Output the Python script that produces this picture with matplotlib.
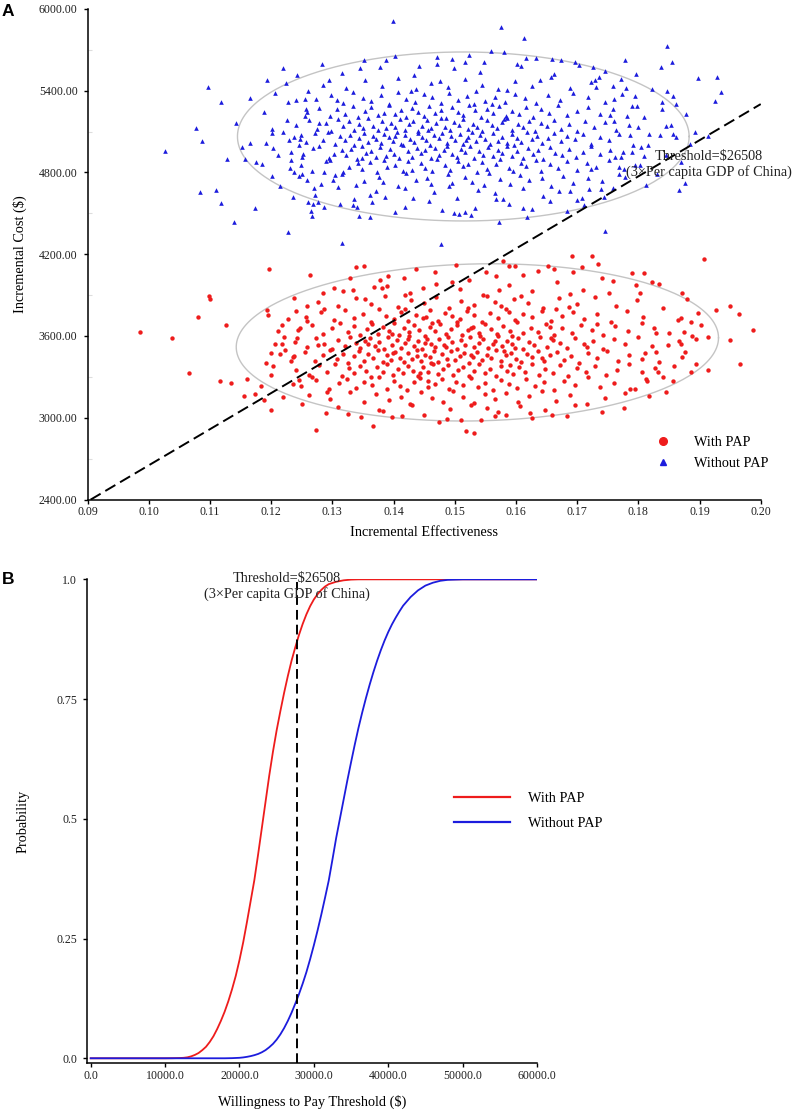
import numpy as np
import matplotlib
matplotlib.use('Agg')
import matplotlib.pyplot as plt
from matplotlib.lines import Line2D

# --- Panel A: incremental cost-effectiveness plane ---
# (incremental effectiveness, incremental cost $)
without_pap = [
    # scattered points outside the dense core
    (0.1026, 4958), (0.1078, 5127), (0.1087, 5033), (0.1097, 5425), (0.1083, 4655), (0.1110, 4672), (0.1118, 5315), (0.1118, 4576),
    (0.1128, 4899), (0.1139, 4434), (0.1142, 5161), (0.1157, 4897), (0.1153, 4989), (0.1165, 5349), (0.1166, 5019), (0.1174, 4540),
    (0.1176, 4880), (0.1185, 4860), (0.1191, 5019), (0.1194, 5477), (0.1202, 5122), (0.1202, 5092), (0.1203, 4980), (0.1211, 4929),
    (0.1202, 4772), (0.1219, 5569), (0.1227, 4361), (0.1219, 5100), (0.1228, 5317), (0.1241, 5334), (0.1255, 5340), (0.1229, 5036),
    (0.1231, 4835), (0.1233, 4892), (0.1247, 5044), (0.1245, 5002), (0.1249, 5075), (0.1245, 4774), (0.1250, 4787), (0.1255, 5217),
    (0.1261, 4586), (0.1265, 4520), (0.1266, 4481), (0.1276, 4586), (0.1399, 5914), (0.1575, 5870), (0.1614, 5785), (0.1847, 5728),
    (0.1855, 5609), (0.1837, 5572), (0.1779, 5623), (0.1897, 5494), (0.1928, 5503), (0.1935, 5389), (0.1926, 5323), (0.1847, 5400),
    (0.1857, 5364), (0.1839, 5320), (0.1798, 5288), (0.1761, 5342), (0.1818, 5085), (0.1836, 5075), (0.1845, 5141), (0.1857, 5082),
    (0.1862, 5060), (0.1893, 5100), (0.1914, 5070), (0.1805, 4990), (0.1791, 5002), (0.1768, 4843), (0.1867, 4672), (0.1877, 4721),
    (0.1745, 4373), (0.1618, 4471), (0.1572, 4437), (0.1478, 4275), (0.1498, 4500), (0.1507, 4493), (0.1517, 4510), (0.1526, 4486),
    (0.1689, 4667), (0.1316, 4285), (0.1362, 4471), (0.1343, 4483), (0.1333, 4560), (0.1340, 4545), (0.1351, 5626), (0.1345, 5565),
    (0.1730, 5479), (0.1736, 5503), (0.1780, 5420), (0.1790, 5290), (0.1760, 5180), (0.1800, 5130), (0.1775, 4950), (0.1810, 4920),
    (0.1700, 4600), (0.1720, 4680),
    # edge of the ellipse
    (0.1188, 5243), (0.1207, 5381), (0.1215, 4703), (0.1224, 5458), (0.1236, 4618), (0.1243, 5512), (0.1252, 4938), (0.1261, 5395),
    (0.1270, 4689), (0.1279, 5164), (0.1286, 4804), (0.1294, 5480), (0.1301, 4746), (0.1308, 5330), (0.1313, 4571), (0.1226, 5186),
    (0.1238, 4806), (0.1257, 5267), (0.1269, 4570), (0.1283, 5598),
    (0.1722, 4826), (0.1731, 5427), (0.1744, 4621), (0.1753, 5218), (0.1762, 4912), (0.1771, 5486), (0.1779, 4763), (0.1787, 5073),
    (0.1794, 5364), (0.1802, 4856), (0.1809, 5207), (0.1816, 4998), (0.1823, 5412), (0.1831, 4788), (0.1838, 5266), (0.1846, 4931),
    (0.1853, 5148), (0.1861, 5305), (0.1869, 4876), (0.1878, 5230), (0.1884, 5011), (0.1726, 5577), (0.1758, 4689), (0.1797, 5524),
    (0.1812, 4705),
    (0.1387, 5622), (0.1442, 5583), (0.1523, 5662), (0.1548, 5609), (0.1602, 5598), (0.1697, 5611), (0.1419, 4548), (0.1479, 4527),
    (0.1568, 4605), (0.1612, 4541), (0.1683, 4518), (0.1361, 4633),
    # core, 4500-4800
    (0.1287, 4547), (0.1365, 4583), (0.1402, 4512), (0.1458, 4591), (0.1533, 4538), (0.1589, 4566), (0.1627, 4529), (0.1655, 4594),
    (0.1712, 4561),
    (0.1272, 4638), (0.1309, 4691), (0.1335, 4603), (0.1371, 4667), (0.1386, 4622), (0.1419, 4684), (0.1432, 4609), (0.1466, 4655),
    (0.1491, 4697), (0.1503, 4616), (0.1538, 4672), (0.1565, 4648), (0.1579, 4604), (0.1612, 4689), (0.1644, 4627), (0.1671, 4663),
    (0.1708, 4612), (0.1739, 4678),
    (0.1258, 4747), (0.1281, 4712), (0.1304, 4783), (0.1316, 4791), (0.1339, 4705), (0.1352, 4738), (0.1377, 4766), (0.1383, 4729),
    (0.1408, 4702), (0.1421, 4795), (0.1437, 4741), (0.1455, 4758), (0.1462, 4714), (0.1489, 4786), (0.1496, 4721), (0.1517, 4769),
    (0.1529, 4733), (0.1548, 4708), (0.1556, 4799), (0.1574, 4754), (0.1591, 4717), (0.1606, 4781), (0.1622, 4744), (0.1643, 4762),
    (0.1658, 4703), (0.1677, 4777), (0.1693, 4726), (0.1718, 4759), (0.1741, 4734), (0.1768, 4789),
    # core, 4800-5000
    (0.1249, 4852), (0.1266, 4814), (0.1289, 4883), (0.1297, 4891), (0.1318, 4805), (0.1327, 4838), (0.1342, 4866), (0.1349, 4829),
    (0.1361, 4874), (0.1373, 4802), (0.1384, 4895), (0.1390, 4841), (0.1403, 4858), (0.1416, 4814), (0.1424, 4886), (0.1431, 4821),
    (0.1445, 4869), (0.1452, 4833), (0.1463, 4808), (0.1471, 4899), (0.1484, 4854), (0.1492, 4817), (0.1506, 4881), (0.1513, 4844),
    (0.1522, 4862), (0.1537, 4803), (0.1545, 4877), (0.1553, 4826), (0.1567, 4863), (0.1574, 4897), (0.1588, 4835), (0.1596, 4811),
    (0.1609, 4872), (0.1617, 4849), (0.1633, 4894), (0.1641, 4807), (0.1656, 4859), (0.1668, 4831), (0.1684, 4884), (0.1699, 4818),
    (0.1716, 4866), (0.1731, 4843), (0.1752, 4891), (0.1776, 4822), (0.1794, 4856),
    (0.1232, 4947), (0.1251, 4912), (0.1268, 4983), (0.1279, 4991), (0.1294, 4905), (0.1303, 4938), (0.1315, 4966), (0.1322, 4929),
    (0.1331, 4974), (0.1340, 4902), (0.1349, 4995), (0.1355, 4941), (0.1364, 4958), (0.1372, 4917), (0.1378, 4986), (0.1387, 4921),
    (0.1395, 4969), (0.1401, 4933), (0.1409, 4908), (0.1416, 4999), (0.1424, 4954), (0.1430, 4915), (0.1438, 4981), (0.1445, 4944),
    (0.1452, 4962), (0.1461, 4903), (0.1467, 4977), (0.1474, 4926), (0.1482, 4963), (0.1488, 4997), (0.1496, 4935), (0.1503, 4911),
    (0.1511, 4972), (0.1517, 4949), (0.1525, 4994), (0.1532, 4907), (0.1540, 4959), (0.1547, 4931), (0.1555, 4984), (0.1562, 4918),
    (0.1571, 4966), (0.1578, 4943), (0.1586, 4991), (0.1594, 4922), (0.1602, 4956), (0.1611, 4909), (0.1619, 4978), (0.1628, 4937),
    (0.1636, 4964), (0.1645, 4901), (0.1655, 4988), (0.1664, 4946), (0.1675, 4925), (0.1686, 4971), (0.1698, 4913), (0.1710, 4953),
    (0.1723, 4992), (0.1738, 4934), (0.1754, 4968), (0.1771, 4916), (0.1789, 4951), (0.1348, 4908),
    # core, 5000-5200
    (0.1238, 5058), (0.1257, 5023), (0.1271, 5087), (0.1284, 5041), (0.1293, 5094), (0.1305, 5012), (0.1313, 5065), (0.1321, 5036),
    (0.1329, 5078), (0.1336, 5004), (0.1344, 5052), (0.1351, 5091), (0.1358, 5027), (0.1366, 5069), (0.1371, 5045), (0.1379, 5016),
    (0.1385, 5083), (0.1393, 5059), (0.1399, 5031), (0.1406, 5097), (0.1413, 5008), (0.1419, 5072), (0.1427, 5049), (0.1433, 5021),
    (0.1440, 5086), (0.1447, 5062), (0.1453, 5035), (0.1460, 5003), (0.1466, 5077), (0.1474, 5054), (0.1479, 5092), (0.1487, 5018),
    (0.1494, 5066), (0.1500, 5039), (0.1508, 5081), (0.1514, 5011), (0.1521, 5057), (0.1528, 5099), (0.1535, 5028), (0.1542, 5074),
    (0.1549, 5047), (0.1557, 5006), (0.1563, 5088), (0.1571, 5033), (0.1578, 5061), (0.1586, 5019), (0.1593, 5084), (0.1601, 5051),
    (0.1609, 5025), (0.1618, 5095), (0.1626, 5042), (0.1635, 5070), (0.1643, 5013), (0.1653, 5056), (0.1662, 5089), (0.1673, 5029),
    (0.1684, 5067), (0.1696, 5044), (0.1709, 5083), (0.1722, 5009), (0.1737, 5060), (0.1752, 5037), (0.1769, 5079), (0.1403, 5064),
    (0.1518, 5040), (0.1597, 5002),
    (0.1241, 5147), (0.1262, 5185), (0.1275, 5119), (0.1289, 5163), (0.1298, 5102), (0.1310, 5191), (0.1318, 5138), (0.1327, 5174),
    (0.1335, 5111), (0.1343, 5156), (0.1350, 5129), (0.1359, 5197), (0.1366, 5143), (0.1374, 5108), (0.1381, 5181), (0.1388, 5125),
    (0.1396, 5166), (0.1403, 5137), (0.1411, 5194), (0.1418, 5115), (0.1425, 5152), (0.1432, 5178), (0.1440, 5104), (0.1447, 5140),
    (0.1455, 5187), (0.1462, 5123), (0.1469, 5161), (0.1477, 5199), (0.1484, 5132), (0.1492, 5110), (0.1499, 5172), (0.1507, 5148),
    (0.1514, 5189), (0.1522, 5117), (0.1530, 5159), (0.1537, 5134), (0.1545, 5101), (0.1553, 5183), (0.1561, 5145), (0.1569, 5126),
    (0.1577, 5169), (0.1586, 5196), (0.1594, 5113), (0.1603, 5154), (0.1612, 5131), (0.1621, 5177), (0.1631, 5106), (0.1641, 5164),
    (0.1651, 5142), (0.1662, 5188), (0.1674, 5121), (0.1686, 5157), (0.1699, 5103), (0.1713, 5175), (0.1728, 5136), (0.1745, 5168),
    (0.1764, 5114), (0.1785, 5151), (0.1457, 5108), (0.1581, 5192),
    # core, 5200-5700
    (0.1259, 5243), (0.1279, 5276), (0.1296, 5211), (0.1308, 5264), (0.1321, 5229), (0.1333, 5291), (0.1342, 5205), (0.1354, 5252),
    (0.1363, 5283), (0.1375, 5218), (0.1384, 5239), (0.1393, 5297), (0.1403, 5226), (0.1412, 5261), (0.1421, 5208), (0.1430, 5272),
    (0.1440, 5247), (0.1449, 5214), (0.1458, 5286), (0.1468, 5233), (0.1477, 5258), (0.1486, 5202), (0.1496, 5279), (0.1505, 5241),
    (0.1514, 5221), (0.1524, 5294), (0.1533, 5256), (0.1543, 5209), (0.1553, 5268), (0.1563, 5237), (0.1573, 5289), (0.1583, 5215),
    (0.1594, 5251), (0.1605, 5227), (0.1616, 5281), (0.1628, 5204), (0.1641, 5262), (0.1654, 5236), (0.1668, 5292), (0.1683, 5219),
    (0.1699, 5254), (0.1717, 5278), (0.1737, 5231), (0.1759, 5266), (0.1782, 5213), (0.1532, 5299),
    (0.1273, 5336), (0.1298, 5371), (0.1317, 5312), (0.1334, 5389), (0.1350, 5348), (0.1364, 5323), (0.1379, 5367), (0.1393, 5304),
    (0.1407, 5392), (0.1421, 5341), (0.1435, 5318), (0.1449, 5376), (0.1463, 5355), (0.1477, 5309), (0.1491, 5384), (0.1505, 5331),
    (0.1520, 5362), (0.1535, 5397), (0.1550, 5325), (0.1566, 5351), (0.1582, 5314), (0.1598, 5379), (0.1615, 5343), (0.1633, 5307),
    (0.1652, 5368), (0.1672, 5329), (0.1694, 5386), (0.1718, 5352), (0.1745, 5316), (0.1774, 5374), (0.1428, 5398), (0.1561, 5303),
    (0.1285, 5441), (0.1322, 5418), (0.1353, 5476), (0.1381, 5432), (0.1407, 5491), (0.1436, 5409), (0.1461, 5457), (0.1489, 5426),
    (0.1516, 5483), (0.1544, 5445), (0.1571, 5412), (0.1599, 5468), (0.1627, 5437), (0.1657, 5497), (0.1688, 5421), (0.1722, 5462),
    (0.1758, 5433), (0.1476, 5472), (0.1586, 5404), (0.1639, 5479),
    (0.1315, 5528), (0.1378, 5574), (0.1433, 5517), (0.1498, 5566), (0.1541, 5539), (0.1609, 5581), (0.1662, 5524), (0.1703, 5592),
    (0.1746, 5546), (0.1471, 5597),
    (0.1402, 5652), (0.1471, 5650), (0.1495, 5630), (0.1517, 5610), (0.1560, 5688), (0.1580, 5685), (0.1616, 5640), (0.1633, 5641),
    (0.1659, 5630), (0.1674, 5625),
]

with_pap = [
    # scattered points outside the dense core
    (0.0986, 3627), (0.1038, 3588), (0.1066, 3331), (0.1081, 3740), (0.1098, 3896), (0.1100, 3875), (0.1117, 3270), (0.1126, 3679),
    (0.1135, 3257), (0.1155, 3158), (0.1161, 3282), (0.1174, 3172), (0.1184, 3233), (0.1188, 3133), (0.1191, 3399), (0.1194, 3791),
    (0.1195, 3756), (0.1199, 3478), (0.1199, 3055), (0.1200, 3312), (0.1206, 3539), (0.1196, 4090), (0.1217, 3544), (0.1218, 3681),
    (0.1221, 3595), (0.1222, 3497), (0.1235, 3250), (0.1237, 3456), (0.1241, 3784), (0.1245, 3280), (0.1258, 3708), (0.1274, 2910),
    (0.1286, 3796), (0.1290, 3033), (0.1347, 3004), (0.1366, 2942), (0.1377, 3057), (0.1263, 4048), (0.1329, 4028), (0.1339, 4109),
    (0.1352, 4116), (0.1303, 3953), (0.1318, 3930), (0.1238, 3879), (0.1368, 3963), (0.1381, 3952), (0.1391, 4040), (0.1518, 2903),
    (0.1531, 2886), (0.1487, 2989), (0.1511, 2986), (0.1565, 3015), (0.1583, 3020), (0.1623, 3037), (0.1659, 3020), (0.1740, 3045),
    (0.1814, 3272), (0.1840, 3297), (0.1832, 3338), (0.1858, 3382), (0.1877, 3485), (0.1886, 3338), (0.1895, 3576), (0.1914, 3348),
    (0.1914, 3595), (0.1966, 3395), (0.1949, 3573), (0.1988, 3646), (0.1965, 3759), (0.1950, 3820), (0.1927, 3789), (0.1897, 3766),
    (0.1886, 3700), (0.1875, 3632), (0.1870, 3730), (0.1870, 3542), (0.1850, 3622), (0.1908, 4163), (0.1871, 3913), (0.1834, 3980),
    (0.1789, 4065), (0.1725, 4187), (0.1692, 4187), (0.1693, 4070), (0.1734, 4129), (0.1653, 4116), (0.1598, 4116), (0.1588, 4116),
    (0.1551, 4068),
    # edge of the ellipse
    (0.1203, 3382), (0.1211, 3637), (0.1219, 3151), (0.1228, 3725), (0.1233, 3418), (0.1242, 3584), (0.1251, 3102), (0.1259, 3821),
    (0.1267, 3296), (0.1276, 3531), (0.1284, 3915), (0.1292, 3188), (0.1214, 3469), (0.1247, 3660),
    (0.1794, 3212), (0.1803, 3912), (0.1811, 3475), (0.1818, 3156), (0.1826, 3661), (0.1833, 3409), (0.1841, 3804), (0.1849, 3533),
    (0.1856, 3268), (0.1864, 3719), (0.1872, 3446), (0.1879, 3872), (0.1887, 3602), (0.1895, 3391), (0.1902, 3684), (0.1846, 3189),
    (0.1822, 3993), (0.1866, 3561), (0.1776, 3068), (0.1759, 4004),
    (0.1326, 3028), (0.1397, 3003), (0.1474, 2968), (0.1543, 2981), (0.1627, 2995), (0.1683, 3011), (0.1437, 4093), (0.1502, 4121),
    (0.1579, 4152), (0.1636, 4078), (0.1708, 4106), (0.1378, 4011),
    # core, 3000-3300
    (0.1309, 3078), (0.1382, 3046), (0.1431, 3091), (0.1449, 3023), (0.1493, 3061), (0.1527, 3097), (0.1571, 3039), (0.1606, 3084),
    (0.1648, 3057), (0.1697, 3093), (0.1414, 3012), (0.1552, 3068),
    (0.1262, 3164), (0.1297, 3139), (0.1329, 3191), (0.1351, 3112), (0.1372, 3176), (0.1393, 3128), (0.1412, 3155), (0.1427, 3104),
    (0.1445, 3187), (0.1463, 3143), (0.1481, 3119), (0.1497, 3198), (0.1514, 3152), (0.1531, 3107), (0.1549, 3171), (0.1566, 3135),
    (0.1584, 3183), (0.1603, 3116), (0.1622, 3159), (0.1643, 3194), (0.1665, 3126), (0.1689, 3167), (0.1716, 3101), (0.1745, 3148),
    (0.1778, 3179),
    (0.1249, 3231), (0.1273, 3279), (0.1294, 3208), (0.1311, 3254), (0.1324, 3287), (0.1339, 3219), (0.1352, 3262), (0.1365, 3241),
    (0.1377, 3296), (0.1389, 3213), (0.1400, 3273), (0.1411, 3236), (0.1422, 3204), (0.1433, 3259), (0.1444, 3291), (0.1456, 3227),
    (0.1467, 3248), (0.1479, 3282), (0.1490, 3211), (0.1502, 3266), (0.1514, 3239), (0.1526, 3294), (0.1538, 3222), (0.1550, 3257),
    (0.1563, 3206), (0.1576, 3276), (0.1589, 3245), (0.1602, 3217), (0.1616, 3288), (0.1631, 3234), (0.1646, 3261), (0.1662, 3203),
    (0.1679, 3271), (0.1697, 3243), (0.1717, 3299), (0.1738, 3226), (0.1761, 3258), (0.1786, 3212), (0.1812, 3284), (0.1457, 3272),
    # core, 3300-3500
    (0.1241, 3352), (0.1262, 3317), (0.1279, 3384), (0.1291, 3339), (0.1305, 3396), (0.1316, 3308), (0.1327, 3363), (0.1336, 3326),
    (0.1346, 3378), (0.1355, 3343), (0.1364, 3301), (0.1373, 3369), (0.1382, 3334), (0.1390, 3391), (0.1399, 3312), (0.1407, 3357),
    (0.1416, 3328), (0.1424, 3381), (0.1432, 3346), (0.1440, 3305), (0.1448, 3372), (0.1456, 3337), (0.1465, 3398), (0.1473, 3321),
    (0.1481, 3359), (0.1489, 3386), (0.1497, 3314), (0.1506, 3348), (0.1514, 3376), (0.1523, 3303), (0.1531, 3341), (0.1540, 3393),
    (0.1549, 3325), (0.1558, 3361), (0.1567, 3309), (0.1576, 3383), (0.1586, 3344), (0.1595, 3319), (0.1605, 3371), (0.1615, 3337),
    (0.1626, 3395), (0.1637, 3313), (0.1648, 3355), (0.1660, 3329), (0.1672, 3387), (0.1685, 3306), (0.1699, 3364), (0.1714, 3338),
    (0.1730, 3379), (0.1747, 3317), (0.1765, 3352), (0.1785, 3392), (0.1806, 3333), (0.1828, 3368), (0.1444, 3331), (0.1591, 3389),
    (0.1236, 3447), (0.1255, 3481), (0.1271, 3413), (0.1284, 3462), (0.1296, 3494), (0.1307, 3428), (0.1317, 3471), (0.1326, 3404),
    (0.1335, 3453), (0.1343, 3488), (0.1351, 3419), (0.1359, 3467), (0.1367, 3436), (0.1374, 3498), (0.1382, 3411), (0.1389, 3458),
    (0.1396, 3427), (0.1403, 3484), (0.1410, 3441), (0.1417, 3406), (0.1424, 3472), (0.1431, 3433), (0.1438, 3495), (0.1445, 3416),
    (0.1452, 3461), (0.1459, 3444), (0.1466, 3487), (0.1473, 3409), (0.1480, 3469), (0.1487, 3431), (0.1494, 3492), (0.1501, 3421),
    (0.1508, 3455), (0.1515, 3478), (0.1523, 3403), (0.1530, 3446), (0.1537, 3485), (0.1545, 3424), (0.1552, 3463), (0.1560, 3438),
    (0.1568, 3497), (0.1576, 3414), (0.1584, 3457), (0.1592, 3476), (0.1600, 3432), (0.1609, 3408), (0.1618, 3466), (0.1627, 3443),
    (0.1636, 3491), (0.1646, 3418), (0.1656, 3459), (0.1667, 3482), (0.1678, 3425), (0.1690, 3451), (0.1703, 3402), (0.1717, 3474),
    (0.1732, 3437), (0.1748, 3489), (0.1766, 3415), (0.1785, 3464), (0.1806, 3429), (0.1829, 3483), (0.1399, 3472), (0.1462, 3405),
    (0.1527, 3459), (0.1581, 3493), (0.1642, 3437), (0.1439, 3450),
    # core, 3500-3700
    (0.1239, 3553), (0.1258, 3518), (0.1274, 3587), (0.1287, 3541), (0.1299, 3504), (0.1310, 3574), (0.1320, 3529), (0.1329, 3596),
    (0.1338, 3547), (0.1346, 3512), (0.1354, 3565), (0.1362, 3583), (0.1370, 3523), (0.1377, 3558), (0.1384, 3506), (0.1391, 3591),
    (0.1398, 3536), (0.1405, 3569), (0.1412, 3514), (0.1419, 3549), (0.1426, 3598), (0.1433, 3527), (0.1440, 3562), (0.1447, 3502),
    (0.1454, 3581), (0.1461, 3543), (0.1468, 3516), (0.1475, 3576), (0.1482, 3534), (0.1489, 3593), (0.1496, 3555), (0.1503, 3508),
    (0.1510, 3568), (0.1517, 3531), (0.1525, 3589), (0.1532, 3521), (0.1539, 3551), (0.1547, 3579), (0.1554, 3509), (0.1562, 3544),
    (0.1570, 3597), (0.1578, 3526), (0.1586, 3563), (0.1594, 3538), (0.1603, 3585), (0.1612, 3503), (0.1621, 3557), (0.1630, 3532),
    (0.1640, 3594), (0.1650, 3517), (0.1661, 3572), (0.1672, 3545), (0.1684, 3511), (0.1697, 3586), (0.1711, 3539), (0.1726, 3566),
    (0.1742, 3505), (0.1760, 3578), (0.1779, 3542), (0.1800, 3591), (0.1822, 3524), (0.1358, 3539), (0.1423, 3578), (0.1486, 3520),
    (0.1541, 3599), (0.1598, 3512), (0.1657, 3587), (0.1716, 3520), (0.1451, 3548), (0.1566, 3560),
    (0.1244, 3645), (0.1267, 3682), (0.1285, 3611), (0.1300, 3659), (0.1313, 3697), (0.1325, 3628), (0.1336, 3671), (0.1346, 3604),
    (0.1356, 3649), (0.1365, 3687), (0.1374, 3617), (0.1383, 3663), (0.1392, 3636), (0.1400, 3694), (0.1409, 3608), (0.1417, 3655),
    (0.1426, 3626), (0.1434, 3679), (0.1442, 3642), (0.1451, 3601), (0.1459, 3668), (0.1468, 3633), (0.1476, 3691), (0.1485, 3614),
    (0.1494, 3652), (0.1503, 3677), (0.1512, 3607), (0.1521, 3641), (0.1530, 3669), (0.1540, 3622), (0.1549, 3685), (0.1559, 3648),
    (0.1569, 3613), (0.1579, 3674), (0.1590, 3637), (0.1601, 3699), (0.1612, 3619), (0.1624, 3661), (0.1636, 3631), (0.1649, 3689),
    (0.1662, 3605), (0.1676, 3657), (0.1691, 3624), (0.1707, 3683), (0.1724, 3646), (0.1742, 3609), (0.1762, 3672), (0.1783, 3638),
    (0.1806, 3692), (0.1829, 3621), (0.1398, 3612), (0.1463, 3695), (0.1527, 3656), (0.1593, 3603), (0.1655, 3667), (0.1732, 3690),
    # core, 3700-4100
    (0.1257, 3741), (0.1282, 3774), (0.1303, 3715), (0.1320, 3788), (0.1336, 3729), (0.1350, 3761), (0.1363, 3704), (0.1376, 3796),
    (0.1388, 3746), (0.1400, 3723), (0.1412, 3779), (0.1424, 3712), (0.1436, 3757), (0.1448, 3735), (0.1460, 3792), (0.1472, 3708),
    (0.1484, 3769), (0.1496, 3744), (0.1508, 3721), (0.1520, 3783), (0.1532, 3752), (0.1545, 3703), (0.1558, 3766), (0.1571, 3731),
    (0.1584, 3799), (0.1598, 3717), (0.1612, 3759), (0.1627, 3738), (0.1642, 3786), (0.1658, 3711), (0.1675, 3749), (0.1693, 3776),
    (0.1712, 3724), (0.1733, 3763), (0.1756, 3706), (0.1781, 3781), (0.1808, 3742), (0.1418, 3798), (0.1503, 3702), (0.1589, 3773),
    (0.1665, 3795), (0.1453, 3736),
    (0.1276, 3848), (0.1309, 3819), (0.1338, 3881), (0.1364, 3836), (0.1386, 3897), (0.1408, 3813), (0.1429, 3862), (0.1449, 3841),
    (0.1470, 3889), (0.1490, 3806), (0.1511, 3857), (0.1532, 3829), (0.1553, 3893), (0.1575, 3817), (0.1597, 3869), (0.1620, 3844),
    (0.1645, 3803), (0.1671, 3876), (0.1699, 3832), (0.1730, 3885), (0.1763, 3821), (0.1798, 3866), (0.1419, 3898), (0.1521, 3802),
    (0.1608, 3894), (0.1686, 3811), (0.1353, 3870), (0.1565, 3852),
    (0.1334, 3936), (0.1389, 3968), (0.1427, 3912), (0.1469, 3984), (0.1508, 3947), (0.1547, 3903), (0.1589, 3971), (0.1626, 3928),
    (0.1667, 3993), (0.1709, 3941), (0.1752, 3916), (0.1797, 3977), (0.1448, 3952), (0.1573, 3938), (0.1689, 3909), (0.1495, 3999),
    (0.1417, 4026), (0.1468, 4071), (0.1524, 4012), (0.1612, 4048), (0.1663, 4088), (0.1741, 4023), (0.1809, 4059), (0.1568, 4039),
]

# confidence ellipses: centre eff, centre cost, half width, half height, tilt
ellipse_without = (0.1514, 5064, 0.0369, 620, 0)
ellipse_with = (0.1537, 3553, 0.0394, 576, 34)

wtp_threshold = 26508
threshold_eff = [0.0905, 0.20]

# --- Panel B: cost-effectiveness acceptability curves ---
wtp_with = [0, 10000, 11000, 12000, 12500, 13000, 13500, 14000, 14500, 15000, 15500, 16000, 16500, 17000,
            17500, 18000, 18500, 19000, 19500, 20000, 20500, 21000, 21500, 22000, 22500, 23000, 23500, 24000,
            24500, 25000, 25500, 26000, 26500, 27000, 27500, 28000, 28500, 29000, 29500, 30000, 30500, 31000,
            31500, 32000, 33000, 34000, 35000, 36000, 38000, 60000]
prob_with = [0, 0, 0.0002, 0.0006, 0.001, 0.002, 0.004, 0.007, 0.011, 0.017, 0.024, 0.034, 0.046, 0.061,
             0.078, 0.097, 0.119, 0.144, 0.172, 0.205, 0.242, 0.284, 0.328, 0.372, 0.425, 0.48, 0.535, 0.59,
             0.64, 0.685, 0.725, 0.763, 0.798, 0.83, 0.858, 0.884, 0.907, 0.927, 0.944, 0.958, 0.969, 0.978,
             0.985, 0.99, 0.995, 0.998, 0.9995, 1.0, 1.0, 1.0]
wtp_without = [0, 18000, 19000, 20000, 20500, 21000, 21500, 22000, 22500, 23000, 23500, 24000, 24500, 25000,
               25500, 26000, 26500, 27000, 27500, 28000, 28500, 29000, 29500, 30000, 30500, 31000, 31500, 32000,
               32500, 33000, 33500, 34000, 34500, 35000, 35500, 36000, 36500, 37000, 37500, 38000, 38500, 39000,
               39500, 40000, 40500, 41000, 41500, 42000, 43000, 44000, 45000, 46000, 47000, 48000, 50000, 60000]
prob_without = [0, 0, 0.0003, 0.001, 0.0018, 0.003, 0.0045, 0.0065, 0.009, 0.0125, 0.017, 0.023, 0.030, 0.039,
                0.050, 0.063, 0.078, 0.095, 0.114, 0.134, 0.156, 0.18, 0.207, 0.236, 0.267, 0.30, 0.335, 0.371,
                0.415, 0.46, 0.50, 0.54, 0.58, 0.618, 0.655, 0.69, 0.722, 0.752, 0.78, 0.806, 0.83, 0.852,
                0.872, 0.89, 0.906, 0.92, 0.933, 0.945, 0.963, 0.977, 0.987, 0.993, 0.997, 0.999, 1.0, 1.0]
ceac_threshold_x = 27700

RED = '#ee1c1c'
BLUE = '#1c1cdd'

plt.rcParams['font.family'] = 'Liberation Serif'

fig = plt.figure(figsize=(7.97, 11.15), dpi=100)

# ---------------- Panel A ----------------
axA = fig.add_axes([0.1098, 0.552, 0.8447, 0.440])

def draw_ellipse(ax, params):
    cx, cy, a, b, k = params
    t = np.linspace(0, 2 * np.pi, 400)
    ax.plot(cx + a * np.cos(t), cy + b * np.sin(t) + k * np.cos(t), color='#c4c4c4', lw=1.0, zorder=1)

draw_ellipse(axA, ellipse_without)
draw_ellipse(axA, ellipse_with)

wo = np.array(without_pap)
wi = np.array(with_pap)
axA.scatter(wo[:, 0], wo[:, 1], marker='^', s=11, color=BLUE, linewidths=0, zorder=2)
axA.scatter(wi[:, 0], wi[:, 1], marker='o', s=10, color=RED, linewidths=0, zorder=2)

tx = np.array(threshold_eff)
axA.plot(tx, wtp_threshold * tx, color='black', lw=1.4, ls=(0, (6, 2.8)), zorder=3)

axA.set_xlim(0.09, 0.20)
axA.set_ylim(2400, 6000)
axA.set_xticks(np.arange(0.09, 0.2001, 0.01))
axA.set_xticklabels(['%.2f' % v for v in np.arange(0.09, 0.2001, 0.01)])
axA.set_yticks(np.arange(2400, 6001, 600))
axA.set_yticklabels(['%.2f' % v for v in np.arange(2400, 6001, 600)])
axA.set_yticks(np.arange(2700, 6000, 600), minor=True)
axA.tick_params(axis='y', which='minor', direction='in', length=3, color='#dddddd', width=0.8)

axA.set_xlabel('Incremental Effectiveness', fontsize=10.3)
axA.set_ylabel('Incremental Cost ($)', fontsize=10.3)
axA.xaxis.set_label_coords(0.5, -0.068)
axA.xaxis.label.set_va('center')
axA.yaxis.set_label_coords(-0.1010, 0.5)
axA.yaxis.label.set_va('center')

axA.text(0.8896, 0.8525, 'Threshold=$26508\n(3×Per capita GDP of China)', transform=fig.transFigure,
         ha='center', va='center', fontsize=10.3, linespacing=1.2, color='#222222')

legA = [Line2D([], [], marker='o', ls='none', color=RED, markersize=5.5),
        Line2D([], [], marker='^', ls='none', color=BLUE, markersize=5)]
axA.legend(legA, ['With PAP', 'Without PAP'], loc='center left', bbox_to_anchor=(656 / 797, 0.5937),
           bbox_transform=fig.transFigure, frameon=False, handlelength=1.0, handletextpad=1.66,
           borderpad=0, borderaxespad=0, labelspacing=0.55, fontsize=10.3)

# ---------------- Panel B ----------------
axB = fig.add_axes([0.1095, 0.0464, 0.5643, 0.4340])
axB.plot(wtp_with, prob_with, color=RED, lw=1.3, zorder=2)
axB.plot(wtp_without, prob_without, color=BLUE, lw=1.3, zorder=2)
axB.plot([ceac_threshold_x, ceac_threshold_x], [-0.0104, 0.995], color='black', lw=1.4, ls=(0, (5, 2.6)), zorder=3)

axB.set_xlim(-460, 60000)
axB.set_ylim(-0.0104, 1.0)
axB.set_xticks(np.arange(0, 60001, 10000))
axB.set_xticklabels(['%.1f' % v for v in np.arange(0, 60001, 10000)])
axB.set_yticks([0, 0.25, 0.5, 0.75, 1.0])
axB.set_yticklabels(['0.0', '0.25', '0.5', '0.75', '1.0'])

axB.set_xlabel('Willingness to Pay Threshold ($)', fontsize=10.3)
axB.set_ylabel('Probability', fontsize=10.3)
axB.xaxis.set_label_coords(0.5, -0.0795)
axB.xaxis.label.set_va('center')
axB.yaxis.set_label_coords(-0.142, 0.5)
axB.yaxis.label.set_va('center')

axB.text(0.3601, 0.474, 'Threshold=$26508\n(3×Per capita GDP of China)', transform=fig.transFigure,
         ha='center', va='center', fontsize=10.3, linespacing=1.2, color='#222222')

legB = [Line2D([], [], color=RED, lw=1.6), Line2D([], [], color=BLUE, lw=1.6)]
axB.legend(legB, ['With PAP', 'Without PAP'], loc='center left', bbox_to_anchor=(454 / 797, 0.2726),
           bbox_transform=fig.transFigure, frameon=False, handlelength=3.9, handletextpad=1.3,
           borderpad=0, borderaxespad=0, labelspacing=0.85, fontsize=10.3)

for ax in (axA, axB):
    for side in ('top', 'right'):
        ax.spines[side].set_visible(False)
    for side in ('left', 'bottom'):
        ax.spines[side].set_linewidth(1.1)
    ax.tick_params(axis='both', which='major', direction='out', length=3, width=1.0,
                   labelsize=8.6, labelcolor='#222222')
    ax.tick_params(axis='x', which='major', pad=2.0)
    ax.tick_params(axis='y', which='major', pad=4.2)

fig.text(0.002, 1 - 4 / 1115, 'A', family='Liberation Sans', fontweight='bold', fontsize=12.5, va='top', ha='left')
fig.text(0.002, 1 - 572 / 1115, 'B', family='Liberation Sans', fontweight='bold', fontsize=12.5, va='top', ha='left')

fig.savefig('out.png', dpi=100)
